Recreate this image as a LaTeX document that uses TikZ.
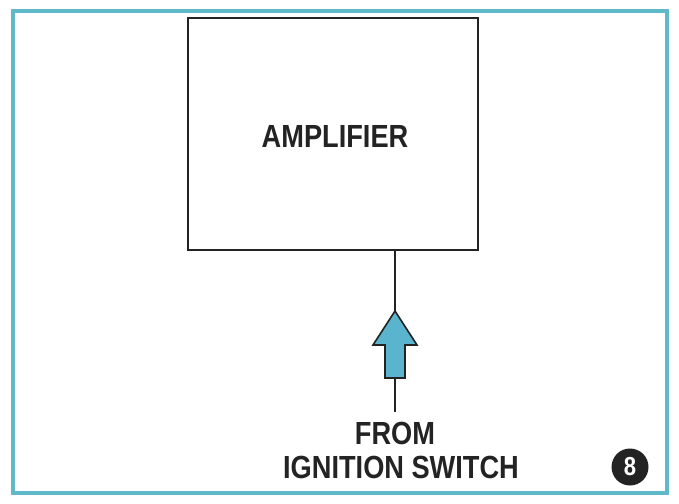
\documentclass[tikz,border=0pt]{standalone}
\usepackage{fontspec}
\setmainfont{Liberation Sans}[FakeStretch=0.85]
\definecolor{frame}{RGB}{95,185,200}
\definecolor{arrowfill}{RGB}{90,180,205}
\definecolor{ink}{RGB}{35,35,35}
\tikzset{
  lbl/.style={font=\fontsize{32}{34}\selectfont\bfseries, text=ink, inner sep=0pt},
  wire/.style={draw=ink, line width=1.6pt},
}
\begin{document}
\begin{tikzpicture}[x=1pt,y=-1pt]
\useasboundingbox (0,0) rectangle (679,503);
\fill[white] (0,0) rectangle (679,503);
\draw[frame, line width=3.5pt] (13,11) rectangle (667,493);
\node[draw=ink, line width=2.2pt, minimum width=290pt, minimum height=232pt, inner sep=0pt] (amp) at (333,134) {};
\node[lbl] (ampl) at (335,136) {AMPLIFIER};
\node[lbl] (from) at (395,433) {FROM};
\node[lbl] (ign) at (401,467) {IGNITION SWITCH};
\coordinate (wireend) at (395,412);
\draw[wire] (amp.south -| wireend) -- (wireend);
\draw[draw=ink, line width=1.6pt, fill=arrowfill, line join=miter]
  (395,311) -- (417,345) -- (405,345) -- (405,378) -- (385,378) -- (385,345) -- (373,345) -- cycle;
\node[circle, fill=ink, minimum size=37pt, inner sep=0pt, text=white, font=\fontsize{26}{28}\selectfont\bfseries] (num) at (630,467) {8};
\end{tikzpicture}
\end{document}
